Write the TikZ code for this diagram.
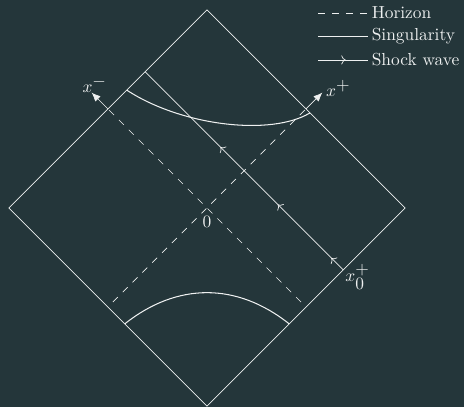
\documentclass[tikz,border=0pt]{standalone}
\usepackage{xcolor}
\usepackage{tikz}
\usetikzlibrary{arrows.meta, positioning, decorations.markings}
\definecolor{chartbg}{HTML}{24363A}
\definecolor{chartink}{HTML}{EEF0F0}
\tikzset{
  rim/.style={draw=chartink, line width=0.4pt},
  horizon/.style={draw=chartink, line width=0.4pt, dash pattern=on 4pt off 4pt},
  sing/.style={draw=chartink, line width=0.6pt},
  nullaxis/.style={-{Latex[length=1.8mm, width=1.5mm]}, draw=chartink, line width=0.4pt},
  shock/.style={draw=chartink, line width=0.4pt, postaction={decorate},
    decoration={markings, mark=at position 0.06 with {\arrow{>}},
      mark=at position 0.33 with {\arrow{>}}, mark=at position 0.62 with {\arrow{>}}}},
  legshock/.style={draw=chartink, line width=0.4pt, postaction={decorate},
    decoration={markings, mark=at position 0.55 with {\arrow{>}}}},
  lbl/.style={text=chartink, inner sep=0pt, anchor=base west}
}
\begin{document}
\begin{tikzpicture}
\path[use as bounding box, fill=chartbg] (-4.18,-4.02) rectangle (5.19,4.20);
% diamond
\coordinate (top) at (0,4); \coordinate (lft) at (-4,0);
\coordinate (bot) at (0,-4); \coordinate (rgt) at (4,0);
\draw[rim] (top)--(rgt)--(bot)--(lft)--cycle;
% horizons
\coordinate (o) at (0,0);
\coordinate (hm0) at (1.9,-1.9); \coordinate (hm1) at (-2,2); \coordinate (xm) at (-2.33,2.33);
\coordinate (hp0) at (-1.9,-1.9); \coordinate (hp1) at (2,2); \coordinate (xp) at (2.33,2.33);
\draw[horizon] (hm0)--(hm1); \draw[horizon] (hp0)--(hp1);
\draw[nullaxis] (hm1)--(xm); \draw[nullaxis] (hp1)--(xp);
\node[lbl] (xmlabel) at ([shift={(-0.19,0)}]xm) {$x^{\textstyle -}$};
\node[lbl] (xplabel) at ([shift={(0.07,-0.08)}]xp) {$x^{\textstyle +}$};
\node[lbl, anchor=north, below=4.5pt of o] (olabel) {$0$};
% singularities
\coordinate (su0) at (-1.62,2.38); \coordinate (su1) at (2.08,1.92);
\coordinate (sl0) at (-1.66,-2.34); \coordinate (sl1) at (1.66,-2.34);
\draw[sing] (su0) .. controls (-0.5,1.65) and (1.3,1.45) .. (su1);
\draw[sing] (sl0) .. controls (-0.6,-1.5) and (0.6,-1.5) .. (sl1);
% shock wave
\coordinate (s0) at (2.75,-1.25); \coordinate (s1) at (-1.25,2.75);
\draw[shock] (s0)--(s1);
\node[lbl] (x0label) at ([shift={(0.04,-0.24)}]s0) {$x_{\textstyle 0}^{\textstyle +}$};
% legend
\coordinate (la0) at (2.25,3.94); \coordinate (la1) at (3.25,3.94);
\coordinate (lb0) at (2.25,3.47); \coordinate (lb1) at (3.25,3.47);
\coordinate (lc0) at (2.25,2.99); \coordinate (lc1) at (3.25,2.99);
\draw[horizon] (la0)--(la1); \draw[rim] (lb0)--(lb1); \draw[legshock] (lc0)--(lc1);
\node[lbl, anchor=west, right=2pt of la1] (lhor) {Horizon};
\node[lbl, anchor=west, right=2pt of lb1] (lsing) {Singularity};
\node[lbl, anchor=west, right=2pt of lc1] (lshock) {Shock wave};
\end{tikzpicture}
\end{document}
